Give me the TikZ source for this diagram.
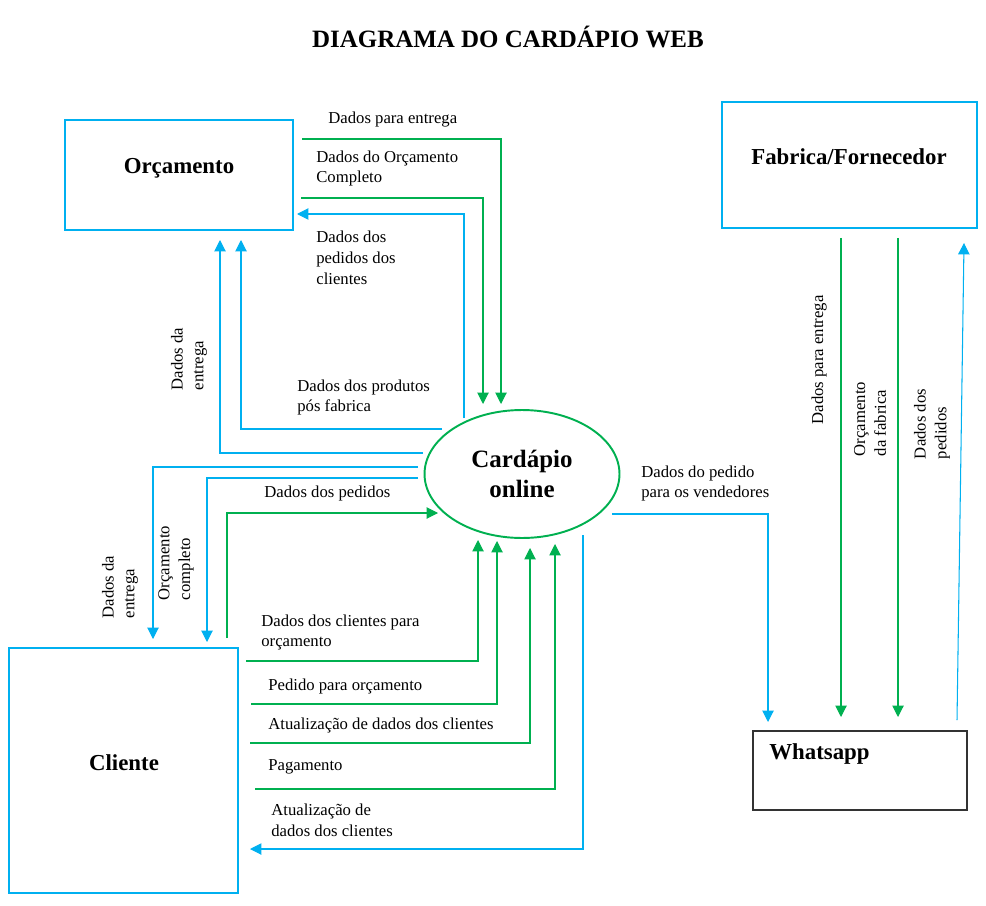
\documentclass[tikz,border=0pt]{standalone}
\usepackage{fontspec}
\setmainfont{Liberation Serif}
\usepackage{xcolor}
\usepackage{tikz}
\usetikzlibrary{positioning,calc,arrows.meta,shapes.geometric}
\definecolor{CardBlue}{RGB}{0,176,240}
\definecolor{CardGreen}{RGB}{0,176,80}

\begin{document}
\begin{tikzpicture}[x=0.02cm, y=-0.02cm]
	\tikzset{
		box/.style={draw=CardBlue, line width=1.1pt, fill=white, inner sep=0pt},
		btxt/.style={font=\fontsize{13}{15}\selectfont\bfseries, inner sep=0pt},
		barrow/.style={draw=CardBlue, line width=0.6pt, -{Triangle[width=6.5pt,length=6.5pt]}},
		garrow/.style={draw=CardGreen, line width=0.6pt, -{Triangle[width=6.5pt,length=6.5pt]}},
		lbl/.style={font=\fontsize{9.5}{11.9}\selectfont, inner sep=0pt, anchor=west, align=left},
		rlbl/.style={font=\fontsize{9.5}{11.9}\selectfont, inner sep=0pt, rotate=90, align=left}
	}
	\useasboundingbox (0,0) rectangle (986,905);

	% titulo
	\node[font=\fontsize{14.2}{17}\selectfont\bfseries, inner sep=0pt] (title) at (508,37) {DIAGRAMA DO CARDÁPIO WEB};

	% entidades
	\node[box, minimum width=4.56cm, minimum height=2.2cm] (orc) at (179,175) {};
	\node[btxt] (orct) at (179,168) {Orçamento};
	\node[box, minimum width=5.1cm, minimum height=2.52cm] (fab) at (849.5,165) {};
	\node[btxt] (fabt) at (849,157) {Fabrica/Fornecedor};
	\node[box, minimum width=4.58cm, minimum height=4.9cm] (cli) at (123.5,770.5) {};
	\node[btxt] (clit) at (124,763) {Cliente};
	\node[draw=black!80, line width=0.8pt, minimum width=4.28cm, minimum height=1.58cm, inner sep=0pt] (wpp) at (860,770.5) {};
	\node[btxt, anchor=west] (wppt) at (769,754) {Whatsapp};

	% processo
	\node[ellipse, draw=CardGreen, line width=1.1pt, minimum width=3.9cm, minimum height=2.56cm,
		inner sep=0pt, align=center, font=\fontsize{14.2}{17}\selectfont\bfseries] (card) at (522,474)
		{Cardápio\\online};

	% pontas dos fluxos
	\coordinate (g1s) at (302,139);  \coordinate (g1e) at (501,404);
	\coordinate (g2s) at (301,198);  \coordinate (g2e) at (483,404);
	\coordinate (b3s) at (464,418);  \coordinate (b3e) at (297,214);
	\coordinate (b4s) at (442,429);  \coordinate (b4e) at (241,240);
	\coordinate (b5s) at (423,453);  \coordinate (b5e) at (220,240);
	\coordinate (b6s) at (418,467);  \coordinate (b6e) at (153,639);
	\coordinate (b7s) at (418,478);  \coordinate (b7e) at (207,642);
	\coordinate (g8s) at (227,638);  \coordinate (g8e) at (438,513);
	\coordinate (g9s) at (246,661);  \coordinate (g9e) at (478,540);
	\coordinate (g10s) at (251,704); \coordinate (g10e) at (497,541);
	\coordinate (g11s) at (250,743); \coordinate (g11e) at (530,548);
	\coordinate (g12s) at (255,789); \coordinate (g12e) at (555,544);
	\coordinate (b13s) at (583,535); \coordinate (b13e) at (250,849);
	\coordinate (b14s) at (612,514); \coordinate (b14e) at (768,722);
	\coordinate (g15s) at (841,238); \coordinate (g15e) at (841,717);
	\coordinate (g16s) at (898,238); \coordinate (g16e) at (898,717);
	\coordinate (b17s) at (957,720); \coordinate (b17e) at (964,243);

	% orcamento <-> cardapio
	\draw[garrow] (g1s) -| (g1e);
	\draw[garrow] (g2s) -| (g2e);
	\draw[barrow] (b3s) |- (b3e);
	\draw[barrow] (b4s) -| (b4e);
	\draw[barrow] (b5s) -| (b5e);

	% cliente <-> cardapio
	\draw[barrow] (b6s) -| (b6e);
	\draw[barrow] (b7s) -| (b7e);
	\draw[garrow] (g8s) |- (g8e);
	\draw[garrow] (g9s) -| (g9e);
	\draw[garrow] (g10s) -| (g10e);
	\draw[garrow] (g11s) -| (g11e);
	\draw[garrow] (g12s) -| (g12e);
	\draw[barrow] (b13s) |- (b13e);

	% whatsapp / fabrica
	\draw[barrow] (b14s) -| (b14e);
	\draw[garrow] (g15s) -- (g15e);
	\draw[garrow] (g16s) -- (g16e);
	\draw[barrow] (b17s) -- (b17e);

	% rotulos
	\node[lbl] (l1) at (328,120) {Dados para entrega};
	\node[lbl] (l2) at (316,168.5) {Dados do Orçamento\\Completo};
	\node[lbl] (l3) at (316,258) {Dados dos\\pedidos dos\\clientes};
	\node[lbl] (l4) at (297,397.5) {Dados dos produtos\\pós fabrica};
	\node[rlbl] (l5) at (189,359) {Dados da\\entrega};
	\node[rlbl] (l6) at (120,587) {Dados da\\entrega};
	\node[rlbl] (l7) at (176,563) {Orçamento\\completo};
	\node[lbl] (l8) at (264,493) {Dados dos pedidos};
	\node[lbl] (l9) at (261,632.5) {Dados dos clientes para\\orçamento};
	\node[lbl] (l10) at (268,686) {Pedido para orçamento};
	\node[lbl] (l11) at (268,725) {Atualização de dados dos clientes};
	\node[lbl] (l12) at (268,767) {Pagamento};
	\node[lbl] (l13) at (271,820.5) {Atualização de\\dados dos clientes};
	\node[lbl] (l14) at (641,483.5) {Dados do pedido\\para os vendedores};
	\node[rlbl] (l15) at (819,360) {Dados para entrega};
	\node[rlbl] (l16) at (870,419) {Orçamento\\da fabrica};
	\node[rlbl] (l17) at (932,424) {Dados dos\\pedidos};
\end{tikzpicture}
\end{document}
